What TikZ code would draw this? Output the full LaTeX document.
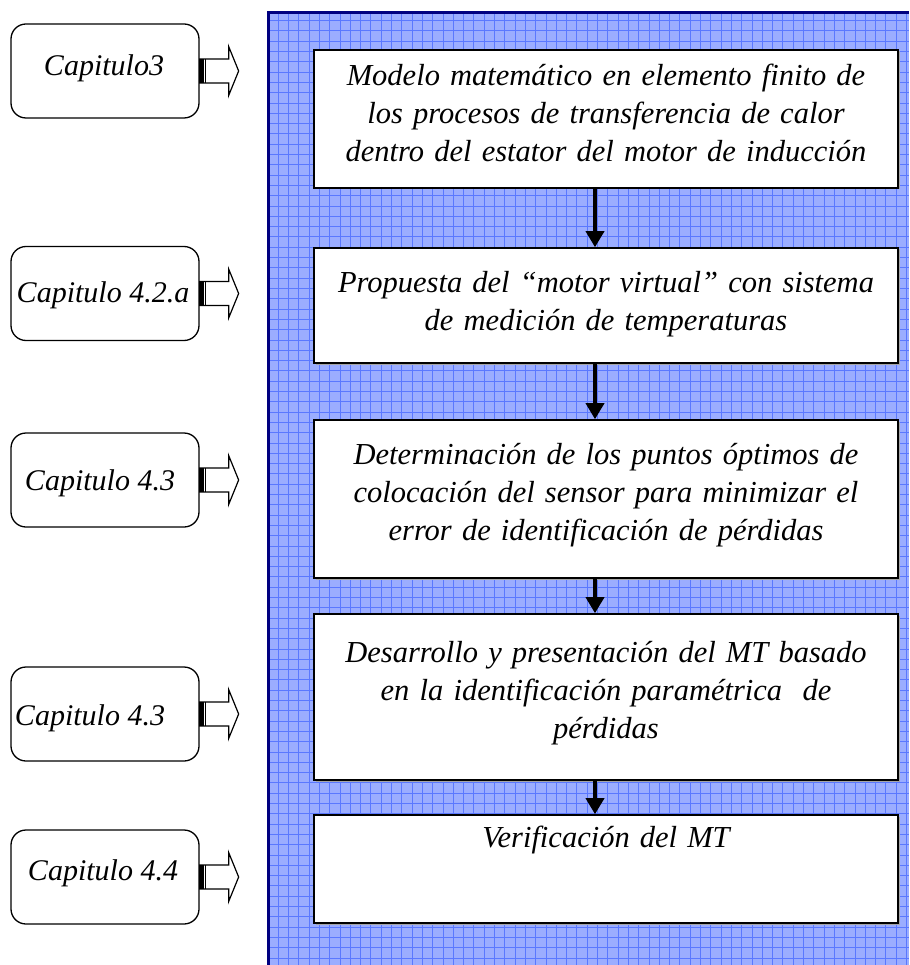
\documentclass[tikz,border=0pt]{standalone}
\usepackage{fontspec}
\setmainfont{Liberation Serif}
\usetikzlibrary{arrows.meta,shadows}
\definecolor{panelfill}{RGB}{155,173,255}
\definecolor{gridblue}{RGB}{90,120,255}
\definecolor{navy}{RGB}{0,0,128}
\tikzset{
  chapbox/.style={draw=black, line width=1.3pt, rounded corners=15pt, fill=white,
    minimum width=188pt, minimum height=94pt, inner sep=0pt},
  chaptext/.style={font=\fontsize{30}{38}\selectfont\itshape, inner sep=0pt},
  blockarrow/.style={draw=black, line width=1.2pt, fill=white, line join=miter},
  mainbox/.style={draw=black, line width=1.6pt, fill=white, minimum width=584pt,
    inner sep=0pt, drop shadow={shadow xshift=1.5pt, shadow yshift=-1.5pt, fill=gray!70, opacity=1}},
  maintext/.style={font=\fontsize{30.5}{38}\selectfont\itshape, align=center,
    text width=580pt, inner sep=0pt, anchor=north},
  flow/.style={line width=3.6pt, -{Triangle[length=16pt,width=18pt]}},
}
\begin{document}
\begin{tikzpicture}[x=1pt,y=-1pt]
\useasboundingbox (0,0) rectangle (909,965);
% panel
\begin{scope}
\clip (267,11) rectangle (909,965);
\fill[panelfill] (267,11) rectangle (909,965);
\draw[gridblue, line width=0.8pt, step=10.3pt] (267,11) grid (909,965);
\end{scope}
\draw[navy, line width=3.5pt] (268.7,965) -- (268.7,12.7) -- (909,12.7);

% main boxes
\node[mainbox, minimum height=138pt] (b1) at (606,119) {};
\node[mainbox, minimum height=115pt] (b2) at (606,305.5) {};
\node[mainbox, minimum height=158pt] (b3) at (606,499) {};
\node[mainbox, minimum height=166pt] (b4) at (606,697) {};
\node[mainbox, minimum height=108pt] (b5) at (606,869) {};

\node[maintext] (t1) at ([yshift=-15pt]b1.north) {Modelo matemático en elemento finito de\\los procesos de transferencia de calor\\dentro del estator del motor de inducción};
\node[maintext] (t2) at ([yshift=-24pt]b2.north) {Propuesta del “motor virtual” con sistema\\de medición de temperaturas};
\node[maintext] (t3) at ([yshift=-24pt]b3.north) {Determinación de los puntos óptimos de\\colocación del sensor para minimizar el\\error de identificación de pérdidas};
\node[maintext] (t4) at ([yshift=-28pt]b4.north) {Desarrollo y presentación del MT basado\\en la identificación paramétrica\ \ de\\pérdidas};
\node[maintext] (t5) at ([yshift=-12pt]b5.north) {Verificación del MT};

\draw[flow] ([xshift=-11pt]b1.south) -- ([xshift=-11pt]b2.north);
\draw[flow] ([xshift=-11pt]b2.south) -- ([xshift=-11pt]b3.north);
\draw[flow] ([xshift=-11pt]b3.south) -- ([xshift=-11pt]b4.north);
\draw[flow] ([xshift=-11pt]b4.south) -- ([xshift=-11pt]b5.north);

% chapter boxes
\node[chapbox] (c1) at (105,71) {};
\node[chapbox] (c2) at (105,293.5) {};
\node[chapbox] (c3) at (105,480) {};
\node[chapbox] (c4) at (105,714) {};
\node[chapbox] (c5) at (105,877) {};

\node[chaptext] (ct1) at (104,68) {Capitulo3};
\node[chaptext] (ct2) at (103,295) {Capitulo 4.2.a};
\node[chaptext] (ct3) at (100,483) {Capitulo 4.3};
\node[chaptext] (ct4) at (90,718) {Capitulo 4.3};
\node[chaptext] (ct5) at (103,873) {Capitulo 4.4};

\foreach \c in {c1,c2,c3,c4,c5}{
  \draw[blockarrow] ([yshift=12pt]\c.east) -- ++(29pt,0pt) -- ++(0pt,12.5pt)
     -- ++(10pt,-24.5pt) -- ++(-10pt,-24.5pt) -- ++(0pt,12.5pt) -- ++(-29pt,0pt) -- cycle;
  \fill[black] ([yshift=-12pt]\c.east) rectangle ([xshift=4pt,yshift=12pt]\c.east);
  \draw[black, line width=0.9pt] ([xshift=5.5pt,yshift=-12pt]\c.east) -- ([xshift=5.5pt,yshift=12pt]\c.east);
}
\end{tikzpicture}
\end{document}
